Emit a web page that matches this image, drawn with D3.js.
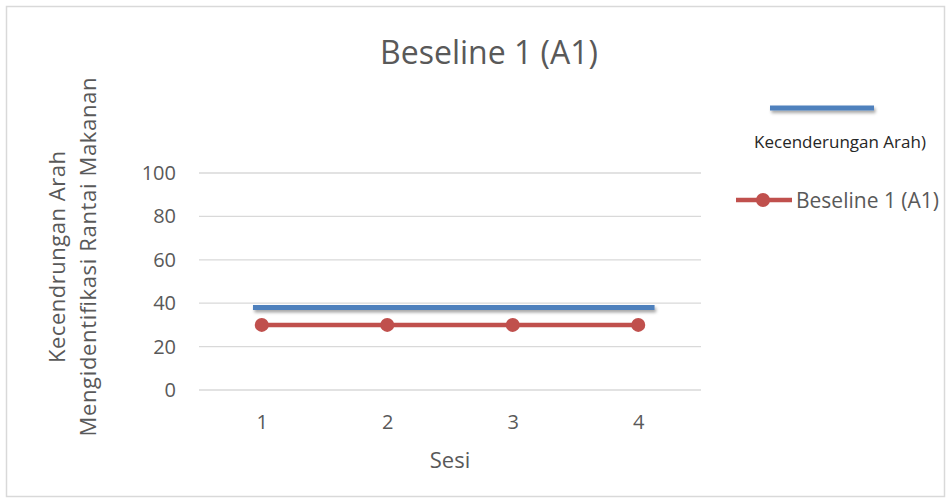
<!DOCTYPE html>
<html>
<head>
<meta charset="utf-8">
<script src="https://cdn.jsdelivr.net/npm/d3@7"></script>
<style>
  body { margin: 0; background: #fff; }
  svg { font-family: "Open Sans", "Noto Sans", sans-serif; }
</style>
</head>
<body>
<svg id="chart" width="948" height="500"></svg>
<script>
const sessions = [1, 2, 3, 4];
const baseline = [30, 30, 30, 30];
const trendX = [0.93, 4.13];
const trendY = [38, 38];
const yTicks = [0, 20, 40, 60, 80, 100];

const COLORS = { blue: "#4f81bd", red: "#c0504d", grid: "#d9d9d9", text: "#595959" };

const svg = d3.select("#chart");

// drop shadow for the trend line (user space, since a flat line has no bbox height)
const defs = svg.append("defs");
defs.append("filter")
  .attr("id", "shadow")
  .attr("filterUnits", "userSpaceOnUse")
  .attr("x", 0).attr("y", 0).attr("width", 948).attr("height", 500)
  .append("feDropShadow")
  .attr("dx", 1.5).attr("dy", 2.5).attr("stdDeviation", 1.8)
  .attr("flood-color", "#000").attr("flood-opacity", 0.35);

// frame
svg.append("rect")
  .attr("x", 6.5).attr("y", 6.5).attr("width", 938).attr("height", 490)
  .attr("fill", "#fff").attr("stroke", COLORS.grid).attr("stroke-width", 1.5);

const x = d3.scaleLinear().domain([0.5, 4.5]).range([199, 701]);
const y = d3.scaleLinear().domain([0, 100]).range([390, 173]);

// gridlines
svg.append("g")
  .selectAll("line")
  .data(yTicks)
  .join("line")
  .attr("x1", x(0.5)).attr("x2", x(4.5))
  .attr("y1", d => y(d)).attr("y2", d => y(d))
  .attr("stroke", COLORS.grid).attr("stroke-width", 1.3);

// y axis labels
const yAxis = svg.append("g")
  .attr("transform", `translate(${x(0.5) - 23},0)`)
  .call(d3.axisLeft(y).tickValues(yTicks).tickSize(0).tickPadding(0));
yAxis.select(".domain").remove();
yAxis.selectAll("text")
  .style("font-size", "20px")
  .style("fill", COLORS.text)
  .style("font-family", "'Open Sans', sans-serif");

// x axis labels
const xAxis = svg.append("g")
  .attr("transform", `translate(0,${y(0) + 25})`)
  .call(d3.axisBottom(x).tickValues(sessions).tickFormat(d3.format("d")).tickSize(0).tickPadding(0));
xAxis.select(".domain").remove();
xAxis.selectAll("text")
  .style("font-size", "20px")
  .style("fill", COLORS.text)
  .style("font-family", "'Open Sans', sans-serif");

// trend line
svg.append("line")
  .attr("x1", x(trendX[0])).attr("x2", x(trendX[1]))
  .attr("y1", y(trendY[0])).attr("y2", y(trendY[1]))
  .attr("stroke", COLORS.blue).attr("stroke-width", 5)
  .attr("filter", "url(#shadow)");

// baseline series
const line = d3.line()
  .x((d, i) => x(sessions[i]))
  .y(d => y(d));

svg.append("path")
  .datum(baseline)
  .attr("d", line)
  .attr("fill", "none")
  .attr("stroke", COLORS.red)
  .attr("stroke-width", 4.5);

svg.append("g")
  .selectAll("circle")
  .data(baseline)
  .join("circle")
  .attr("cx", (d, i) => x(sessions[i]))
  .attr("cy", d => y(d))
  .attr("r", 7)
  .attr("fill", COLORS.red);

// title
svg.append("text")
  .attr("x", 489).attr("y", 64)
  .attr("text-anchor", "middle")
  .style("font-size", "32px")
  .style("fill", COLORS.text)
  .text("Beseline 1 (A1)");

// axis titles
svg.append("text")
  .attr("x", 450).attr("y", 468)
  .attr("text-anchor", "middle")
  .style("font-size", "22px")
  .style("fill", COLORS.text)
  .text("Sesi");

const yTitle = svg.append("text")
  .attr("transform", "translate(0,257) rotate(-90)")
  .attr("text-anchor", "middle")
  .style("font-size", "22px")
  .style("fill", COLORS.text);
yTitle.append("tspan").attr("x", 0).attr("y", 65)
  .attr("textLength", 212).attr("lengthAdjust", "spacing")
  .text("Kecendrungan Arah");
yTitle.append("tspan").attr("x", 0).attr("y", 96)
  .attr("textLength", 359).attr("lengthAdjust", "spacing")
  .text("Mengidentifikasi Rantai Makanan");

// legend
const legend = svg.append("g");
legend.append("line")
  .attr("x1", 770).attr("x2", 874).attr("y1", 108).attr("y2", 108)
  .attr("stroke", COLORS.blue).attr("stroke-width", 5)
  .attr("filter", "url(#shadow)");
legend.append("text")
  .attr("x", 840).attr("y", 148)
  .attr("text-anchor", "middle")
  .style("font-size", "17px")
  .style("fill", "#262626")
  .text("Kecenderungan Arah)");

legend.append("line")
  .attr("x1", 736).attr("x2", 792).attr("y1", 200).attr("y2", 200)
  .attr("stroke", COLORS.red).attr("stroke-width", 4.5);
legend.append("circle")
  .attr("cx", 763).attr("cy", 200).attr("r", 7)
  .attr("fill", COLORS.red);
legend.append("text")
  .attr("x", 796).attr("y", 207.5)
  .style("font-size", "21px")
  .style("fill", COLORS.text)
  .text("Beseline 1 (A1)");
</script>
</body>
</html>
